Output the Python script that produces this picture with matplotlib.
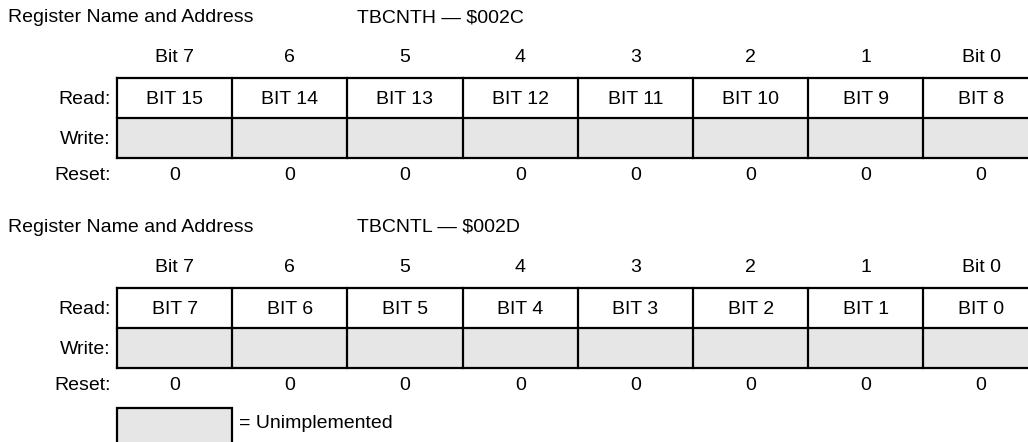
import matplotlib.pyplot as plt
from matplotlib.patches import Rectangle

plt.rcParams['font.family'] = ['Liberation Sans', 'DejaVu Sans']

# Register data
registers = ['TBCNTH \u2014 $002C', 'TBCNTL \u2014 $002D']
bit_headers = ['Bit 7', '6', '5', '4', '3', '2', '1', 'Bit 0']
read_high = ['BIT 15', 'BIT 14', 'BIT 13', 'BIT 12', 'BIT 11', 'BIT 10', 'BIT 9', 'BIT 8']
read_low = ['BIT 7', 'BIT 6', 'BIT 5', 'BIT 4', 'BIT 3', 'BIT 2', 'BIT 1', 'BIT 0']
reset_high = [0, 0, 0, 0, 0, 0, 0, 0]
reset_low = [0, 0, 0, 0, 0, 0, 0, 0]
row_labels = ['Read:', 'Write:', 'Reset:']

grey = '#e6e6e6'
fs = 14
lw = 1.6

fig = plt.figure(figsize=(10.28, 4.42), dpi=100)
ax = fig.add_axes([0, 0, 1, 1])
ax.set_xlim(0, 1028)
ax.set_ylim(442, 0)
ax.axis('off')

x0 = 117
cw = 115.2
rh = 40


def draw_register(title_y, tbl_y, name, reads, resets):
    ax.text(8, title_y, 'Register Name and Address', fontsize=fs, va='center', ha='left')
    ax.text(357, title_y, name, fontsize=fs, va='center', ha='left')
    hdr_y = tbl_y - 20
    reset_y = tbl_y + 2 * rh + 18
    for i, h in enumerate(bit_headers):
        ax.text(x0 + cw * (i + 0.5), hdr_y, h, fontsize=fs, ha='center', va='center')
    for i in range(len(reads)):
        ax.add_patch(Rectangle((x0 + cw * i, tbl_y + rh), cw, rh, facecolor=grey,
                               edgecolor='none'))
        ax.text(x0 + cw * (i + 0.5), tbl_y + rh / 2 + 1, reads[i], fontsize=fs,
                ha='center', va='center')
        ax.text(x0 + cw * (i + 0.5), reset_y, str(resets[i]), fontsize=fs,
                ha='center', va='center')
    right = x0 + cw * len(reads)
    for y in (tbl_y, tbl_y + rh, tbl_y + 2 * rh):
        ax.plot([x0, right], [y, y], color='black', lw=lw, solid_capstyle='projecting')
    for i in range(len(reads) + 1):
        xx = x0 + cw * i
        ax.plot([xx, xx], [tbl_y, tbl_y + 2 * rh], color='black', lw=lw,
                solid_capstyle='projecting')
    label_y = [tbl_y + rh / 2 + 1, tbl_y + 1.5 * rh + 1, reset_y]
    for lab, yy in zip(row_labels, label_y):
        ax.text(111, yy, lab, fontsize=fs, ha='right', va='center')


draw_register(18, 78, registers[0], read_high, reset_high)
draw_register(227, 288, registers[1], read_low, reset_low)

# legend
ax.add_patch(Rectangle((x0, 408), cw, 40, facecolor=grey, edgecolor='black', lw=lw))
ax.text(x0 + cw + 7, 424, '= Unimplemented', fontsize=fs, ha='left', va='center')

fig.savefig('out.png', dpi=100)
plt.close(fig)
